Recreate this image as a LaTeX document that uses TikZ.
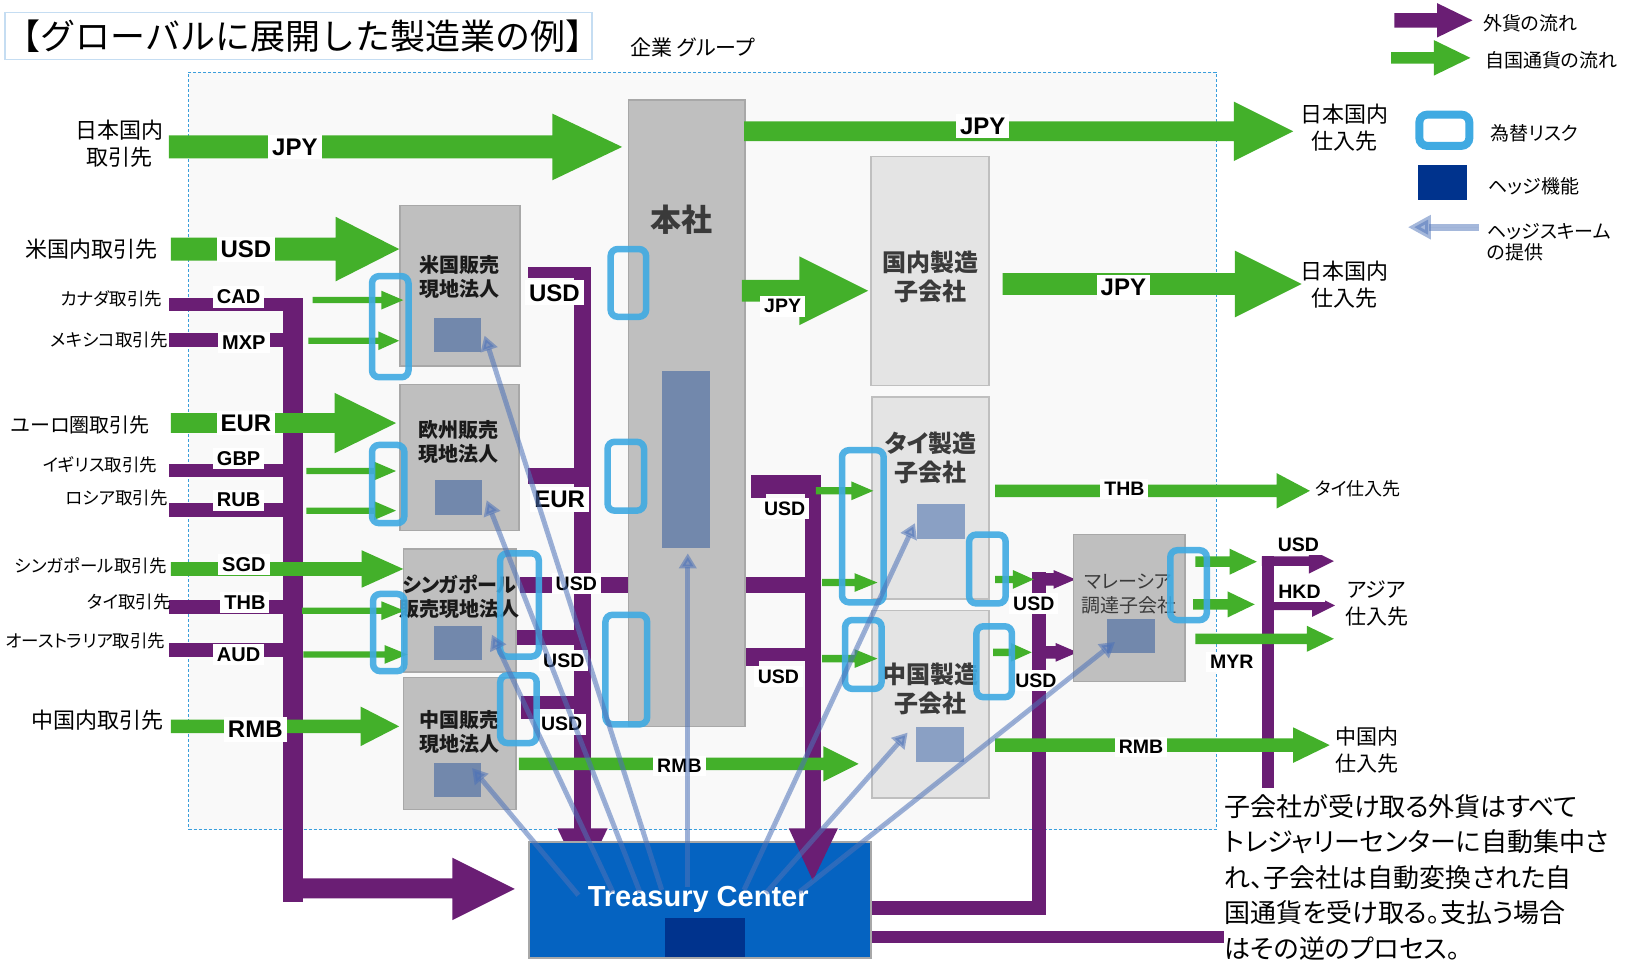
\documentclass[tikz,border=0pt]{standalone}
\usepackage{fontspec}
\setmainfont{Liberation Sans}
\newfontfamily\jp[RawFeature=+palt]{Noto Sans CJK JP}
\newfontfamily\jpf{Noto Sans CJK JP}
\usetikzlibrary{arrows.meta,fit}
\definecolor{grn}{HTML}{43B02A}
\definecolor{prp}{HTML}{6A1E74}
\definecolor{risk}{HTML}{3FAAE2}
\definecolor{hedge}{HTML}{7288AC}
\definecolor{hedgelt}{HTML}{8AA0C4}
\definecolor{hedgeln}{HTML}{4D72B8}
\definecolor{boxg}{HTML}{BFBFBF}
\definecolor{boxgb}{HTML}{A8A8A8}
\definecolor{boxl}{HTML}{E4E4E4}
\definecolor{tcblue}{HTML}{0563C1}
\definecolor{navy}{HTML}{00338D}
\definecolor{dashb}{HTML}{3A9EDC}
\definecolor{titleb}{HTML}{C5DDF2}
\definecolor{regionbg}{HTML}{F9F9F9}
\definecolor{txtd}{HTML}{1A1A1A}
\definecolor{txtg}{HTML}{3A3A3A}
\newcommand\blkarrow[7]{\fill[#1] (#2,#5-#6) -- (#3,#5-#6) -- (#3,#5-#7) -- (#4,#5) -- (#3,#5+#7) -- (#3,#5+#6) -- (#2,#5+#6) -- cycle;}
\tikzset{
  gbox/.style={fill=boxg, draw=boxgb, line width=1.5pt},
  lbox/.style={fill=boxl, draw=boxg, line width=1.5pt},
  lbl/.style={fill=white, inner xsep=4pt, inner ysep=4pt, font=\bfseries\fontsize{24}{24}\selectfont},
  lbls/.style={fill=white, inner xsep=4pt, inner ysep=3.5pt, font=\bfseries\fontsize{20}{20}\selectfont},
  lblm/.style={fill=white, inner xsep=4pt, inner ysep=3.5pt, font=\bfseries\fontsize{19.5}{19.5}\selectfont},
  riskr/.style={draw=risk, line width=6.5pt, rounded corners=7pt, draw opacity=0.9},
  hedgearr/.style={draw=hedgeln, fill=hedgeln, line width=5pt, opacity=0.55, -{Triangle[length=15pt,width=17pt]}},
  salestxt/.style={font=\jp\bfseries\fontsize{20}{24}\selectfont, align=center, text=txtd},
  mfgtxt/.style={font=\jp\bfseries\fontsize{24}{29}\selectfont, align=center, text=txtg},
  bigl/.style={font=\jp\fontsize{22}{27}\selectfont, align=center},
  smalll/.style={font=\jp\fontsize{17.5}{20}\selectfont, anchor=east},
  legt/.style={font=\jp\fontsize{19}{22}\selectfont, anchor=west, align=left}
}
\begin{document}
\begin{tikzpicture}[x=1.0421pt,y=-1.0421pt, every node/.style={inner sep=0pt}]
\useasboundingbox (0,0) rectangle (1568,924);
\fill[white] (0,0) rectangle (1568,924);

% title
\node[fit={(5,12)(568,57)}, draw=titleb, line width=1.5pt, fill=white] (titlebox) {};
\node[anchor=west, font=\jpf\fontsize{35}{35}\selectfont] (title) at (5,35) {【グローバルに展開した製造業の例】};
\node[anchor=west, font=\jp\fontsize{21}{21}\selectfont] (grp) at (605,46) {企業 グループ};

% group region
\node[fit={(181,69)(1167,796)}, draw=dashb, dash pattern=on 3pt off 2pt, line width=0.8pt, fill=regionbg] (group) {};

% ---- purple network (foreign currency) ----
\fill[prp] (162,286) rectangle (291,298);
\fill[prp] (162,320) rectangle (291,333);
\fill[prp] (162,445) rectangle (291,458);
\fill[prp] (162,483) rectangle (291,496);
\fill[prp] (162,576) rectangle (291,589);
\fill[prp] (162,617) rectangle (291,630);
\fill[prp] (272,286) rectangle (291,866);
\fill[prp] (272,843) -- (434,843) -- (434,823) -- (494,853) -- (434,883) -- (434,862) -- (272,862) -- cycle;

\fill[prp] (507,256) rectangle (567,267);
\fill[prp] (551,256) rectangle (567,800);
\fill[prp] (507,449) rectangle (567,464);
\fill[prp] (499,554) rectangle (779,569);
\fill[prp] (494,605) rectangle (567,619);
\fill[prp] (500,668) rectangle (567,680);
\fill[prp] (500,668) rectangle (512,690);
\fill[prp] (535,795) -- (583,795) -- (559,845) -- cycle;

\fill[prp] (721,456) rectangle (788,474);
\fill[prp] (721,456) rectangle (735,478);
\fill[prp] (772,456) rectangle (788,800);
\fill[prp] (715,622) rectangle (788,634);
\fill[prp] (715,622) rectangle (728,639);

\fill[prp] (990,549) rectangle (1004,878);
\fill[prp] (836,865) rectangle (1004,878);
\blkarrow{prp}{997}{1011}{1032}{556}{6}{9}
\blkarrow{prp}{997}{1013}{1034}{626}{6}{9}
\fill[prp] (836,893) rectangle (1175,905);

\fill[prp] (1211,534) rectangle (1223,756);
\blkarrow{prp}{1211}{1256}{1280}{538.5}{4.5}{12}
\blkarrow{prp}{1217}{1259}{1281}{581}{4.5}{11}

% ---- boxes ----
\node[fit={(603,96)(715,697)}, gbox] (hq) {};
\fill[hedge] (635,356) rectangle (681,526);
\node[font=\jp\bfseries\fontsize{31}{31}\selectfont, text=txtg] (hqt) at (654,211) {本社};

\node[fit={(384,197)(499,351)}, gbox] (us) {};
\node[fit={(384,369)(498,509)}, gbox] (eu) {};
\node[fit={(387,527)(495,645)}, gbox] (sg) {};
\node[fit={(387,650)(495,777)}, gbox] (cns) {};
\fill[hedge] (416,305) rectangle (462,338);
\fill[hedge] (417,461) rectangle (463,494);
\fill[hedge] (416,601) rectangle (463,633);
\fill[hedge] (416,732) rectangle (462,765);
\node[salestxt] (ust) at (441,266) {米国販売\\現地法人};
\node[salestxt] (eut) at (440,424) {欧州販売\\現地法人};
\node[salestxt] (sgt) at (441,573) {シンガポール\\販売現地法人};
\node[salestxt] (cnst) at (441,702) {中国販売\\現地法人};

\node[fit={(836,150)(949,370)}, lbox] (jpm) {};
\node[fit={(837,381)(949,575)}, lbox] (thm) {};
\node[fit={(837,586)(949,766)}, lbox] (cnm) {};
\fill[hedgelt] (880,484) rectangle (926,517);
\fill[hedgelt] (879,698) rectangle (925,731);
\node[mfgtxt] (jpmt) at (893,266) {国内製造\\子会社};
\node[mfgtxt] (thmt) at (893,439) {タイ製造\\子会社};
\node[mfgtxt] (cnmt) at (893,661) {中国製造\\子会社};

\node[fit={(1030,513)(1137,654)}, gbox] (my) {};
\fill[hedge] (1062,594) rectangle (1108,627);
\node[font=\jp\fontsize{19}{24}\selectfont, align=center, text=txtg] (myt) at (1083,570) {マレーシア\\調達子会社};

% ---- green flows (home currency) ----
\blkarrow{grn}{162}{530}{597}{141}{11}{32}
\blkarrow{grn}{164}{322}{383}{239}{11}{31}
\blkarrow{grn}{164}{321}{380}{406}{9.5}{29}
\blkarrow{grn}{164}{347}{387}{546}{6.5}{18}
\blkarrow{grn}{164}{346}{383}{697}{6.5}{19}
\blkarrow{grn}{714}{1184}{1241}{126}{9.5}{28.5}
\blkarrow{grn}{712}{767}{833}{279}{10.5}{33}
\blkarrow{grn}{962}{1185}{1249}{272.5}{10.5}{32}
\blkarrow{grn}{955}{1225}{1257}{471}{6}{17}
\blkarrow{grn}{498}{790}{824}{733}{6}{17}
\blkarrow{grn}{955}{1241}{1276}{715}{6.5}{17}
\blkarrow{grn}{1147}{1254}{1280}{613}{5}{12.5}
\blkarrow{grn}{1147}{1180}{1206}{539}{5}{12.5}
\blkarrow{grn}{1145}{1178}{1204}{580}{5}{12.5}
\blkarrow{grn}{300}{366}{387}{288}{3}{9}
\blkarrow{grn}{296}{363}{383}{327}{3}{9}
\blkarrow{grn}{294}{359}{380}{452}{3}{9}
\blkarrow{grn}{294}{359}{380}{490}{3}{9}
\blkarrow{grn}{290}{366}{388}{586}{3}{9}
\blkarrow{grn}{291}{369}{391}{628}{3}{9}
\blkarrow{grn}{783}{817}{838}{471}{3.5}{9}
\blkarrow{grn}{789}{820}{842}{559}{3.5}{9}
\blkarrow{grn}{789}{820}{842}{632}{3.5}{9}
\blkarrow{grn}{955}{972}{992}{556}{3.5}{9}
\blkarrow{grn}{953}{970}{990}{626}{3.5}{9}

% ---- currency labels ----
\node[lbl] at (283,141) {JPY};
\node[lbl] at (236,239) {USD};
\node[lbl] at (236,406) {EUR};
\node[lbl] at (245,700) {RMB};
\node[lbl] at (532,281) {USD};
\node[lbl] at (537,479) {EUR};
\node[lbl] at (943,121) {JPY};
\node[lbl] at (1078,276) {JPY};
\node[lbls] at (229,285) {CAD};
\node[lbls] at (234,329) {MXP};
\node[lbls] at (229,440) {GBP};
\node[lbls] at (229,480) {RUB};
\node[lbls] at (234,542) {SGD};
\node[lbls] at (235,578) {THB};
\node[lbls] at (229,628) {AUD};
\node[lblm] at (553,560) {USD};
\node[lblm] at (541,634) {USD};
\node[lblm] at (539,695) {USD};
\node[lblm] at (753,488) {USD};
\node[lblm] at (747,649) {USD};
\node[lblm] at (751,294) {JPY};
\node[lblm] at (1079,469) {THB};
\node[lblm] at (652,735) {RMB};
\node[lblm] at (1095,717) {RMB};
\node[lblm] at (992,579) {USD};
\node[lblm] at (994,653) {USD};
\node[lblm] at (1182,635) {MYR};
\node[lblm] at (1246,523) {USD};
\node[lblm] at (1247,568) {HKD};

% ---- FX risk frames ----
\draw[riskr] (357,265) rectangle (392,362);
\draw[riskr] (357,427) rectangle (388,502);
\draw[riskr] (358,570) rectangle (388,644);
\draw[riskr] (480,531) rectangle (517,630);
\draw[riskr] (480,648) rectangle (515,713);
\draw[riskr] (586,239) rectangle (620,304);
\draw[riskr] (583,424) rectangle (618,490);
\draw[riskr] (581,590) rectangle (621,695);
\draw[riskr] (808,432) rectangle (848,578);
\draw[riskr] (930,513) rectangle (965,579);
\draw[riskr] (811,595) rectangle (846,661);
\draw[riskr] (937,601) rectangle (971,669);
\draw[riskr] (1123,528) rectangle (1158,595);

% ---- Treasury Center ----
\node[fit={(508,808)(836,919)}, fill=tcblue, draw=boxgb, line width=2pt] (tc) {};
\fill[navy] (638,881) rectangle (715,918);
\node[text=white, font=\bfseries\fontsize{29}{29}\selectfont] (tct) at (670,863) {Treasury Center};
\fill[prp] (757,795) -- (804,795) -- (780,845) -- cycle;

% ---- hedge scheme arrows ----
\draw[hedgearr] (555,859) -- (453,737);
\draw[hedgearr] (588,856) -- (472,609);
\draw[hedgearr] (614,856) -- (467,480);
\draw[hedgearr] (635,854) -- (465,322);
\draw[hedgearr] (660,851) -- (660,531);
\draw[hedgearr] (714,854) -- (878,502);
\draw[hedgearr] (735,857) -- (871,703);
\draw[hedgearr] (767,856) -- (1070,616);

% ---- left partner labels ----
\node[bigl] (jpp) at (115,138) {日本国内\\取引先};
\node[bigl, anchor=east] (usp) at (151,239) {米国内取引先};
\node[smalll] (cap) at (156,287) {カナダ取引先};
\node[smalll] (mxp) at (161,326) {メキシコ取引先};
\node[font=\jp\fontsize{20}{20}\selectfont, anchor=east] (eup) at (144,408) {ユーロ圏取引先};
\node[smalll] (gbp) at (151,446) {イギリス取引先};
\node[smalll] (rup) at (161,478) {ロシア取引先};
\node[smalll] (sgp) at (160,543) {シンガポール取引先};
\node[smalll] (thp) at (164,578) {タイ取引先};
\node[smalll] (aup) at (159,615) {オーストラリア取引先};
\node[bigl, anchor=east] (cnp) at (157,691) {中国内取引先};

% ---- right supplier labels ----
\node[bigl] (jps1) at (1290,123) {日本国内\\仕入先};
\node[bigl] (jps2) at (1290,273) {日本国内\\仕入先};
\node[font=\jp\fontsize{18}{18}\selectfont, anchor=west] (ths) at (1262,469) {タイ仕入先};
\node[font=\jp\fontsize{21}{27}\selectfont, align=center] (ass) at (1321,579) {アジア\\仕入先};
\node[font=\jp\fontsize{21}{27}\selectfont, align=center] (cns2) at (1312,720) {中国内\\仕入先};

% ---- legend ----
\blkarrow{prp}{1338}{1379}{1413}{19.5}{7}{16.5}
\blkarrow{grn}{1335}{1376}{1411}{55.5}{5.5}{17}
\node[legt] (lg1) at (1423,22) {外貨の流れ};
\node[legt] (lg2) at (1425,57.5) {自国通貨の流れ};
\draw[draw=risk, line width=8pt, rounded corners=8pt] (1362,110) rectangle (1410,140);
\node[legt] (lg3) at (1430,128) {為替リスク};
\fill[navy] (1361,158) rectangle (1408,192);
\node[legt] (lg4) at (1428,179) {ヘッジ機能};
\draw[draw=hedgeln, fill=hedgeln, line width=7pt, opacity=0.5, -{Triangle[length=23pt,width=23pt]}] (1419,218) -- (1351,218);
\node[font=\jp\fontsize{19}{21}\selectfont, anchor=north west, align=left] (lg5) at (1427,214) {ヘッジスキーム\\の提供};

% ---- note ----
\node[anchor=north west, align=left, font=\jp\fontsize{26}{35.5}\selectfont] (note) at (1175,762) {子会社が受け取る外貨はすべて\\トレジャリーセンターに自動集中さ\\れ、子会社は自動変換された自\\国通貨を受け取る。支払う場合\\はその逆のプロセス。};
\end{tikzpicture}
\end{document}
